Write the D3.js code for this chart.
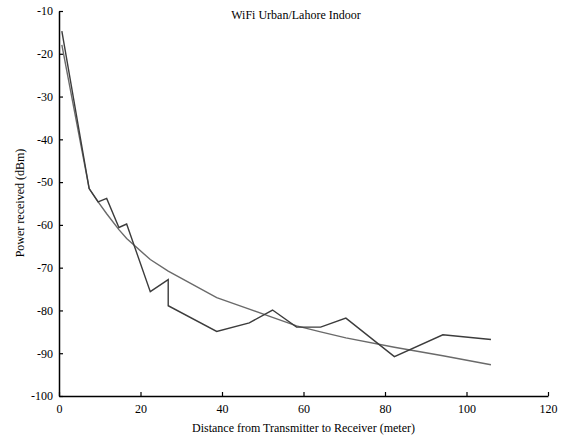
<!DOCTYPE html>
<html>
<head>
  <meta charset='utf-8'>
  <style>
    body { margin: 0; background: #fff; }
    text { font-family: "Liberation Serif", "Times New Roman", serif; }
  </style>
</head>
<body>
  <div id="chart"></div>
  <script src="https://d3js.org/d3.v7.min.js"></script>
  <script>
    // measured power vs distance
    var distance = [0.7, 7.4, 9.6, 11.7, 14.7, 16.6, 22.4, 26.8, 26.8, 38.7, 46.7, 52.4, 58.3, 64.2, 70.4, 82.3, 94.2, 106];
    var measured = [-14.7, -51.5, -54.6, -53.8, -60.6, -59.8, -75.6, -72.8, -78.9, -84.9, -82.9, -79.9, -83.9, -83.9, -81.8, -90.8, -85.7, -86.8];
    // fitted path loss model
    var fitted = [-17.9, -51.5, -54.6, -57.4, -61.1, -63.2, -68.1, -70.8, -70.8, -77.0, -79.7, -81.6, -83.6, -85.0, -86.4, -88.6, -90.6, -92.7];
    var xTicks = [0, 20, 40, 60, 80, 100, 120];
    var yTicks = [-10, -20, -30, -40, -50, -60, -70, -80, -90, -100];

    var width = 562,
        height = 437;

    var x = d3.scaleLinear().domain([0, 120]).range([59, 548]);
    var y = d3.scaleLinear().domain([-100, -10]).range([396, 11]);

    var svg = d3.select("#chart")
                .append("svg")
                .attr("width", width)
                .attr("height", height);

    // plain hyphen for negatives, like the original
    var fmt = function(d) { return String(d); };

    // axes, ticks pointing inward
    var xAxis = svg.append("g")
        .attr("transform", "translate(0,396)")
        .call(d3.axisBottom(x).tickValues(xTicks).tickFormat(fmt).tickSizeInner(-4).tickSizeOuter(0).tickPadding(8));
    var yAxis = svg.append("g")
        .attr("transform", "translate(59,0)")
        .call(d3.axisLeft(y).tickValues(yTicks).tickFormat(fmt).tickSizeInner(-4).tickSizeOuter(0).tickPadding(6));

    [xAxis, yAxis].forEach(function(a) {
      a.attr("font-family", "Liberation Serif").attr("font-size", 12);
      a.select(".domain").attr("stroke", "#000").attr("stroke-width", 1.5);
      a.selectAll(".tick line").attr("stroke", "#000").attr("stroke-width", 1.2);
      a.selectAll(".tick text").attr("fill", "#000");
    });

    var line = d3.line()
        .x(function(d) { return x(d[0]); })
        .y(function(d) { return y(d[1]); });

    svg.append("path")
        .datum(d3.zip(distance, fitted))
        .attr("d", line)
        .attr("fill", "none")
        .attr("stroke", "#6a6a6a")
        .attr("stroke-width", 1.4);

    svg.append("path")
        .datum(d3.zip(distance, measured))
        .attr("d", line)
        .attr("fill", "none")
        .attr("stroke", "#3c3c3c")
        .attr("stroke-width", 1.4);

    svg.append("text")
        .attr("x", 296)
        .attr("y", 19)
        .attr("text-anchor", "middle")
        .attr("font-size", 12)
        .text("WiFi Urban/Lahore Indoor");

    svg.append("text")
        .attr("x", 303.5)
        .attr("y", 432)
        .attr("text-anchor", "middle")
        .attr("font-size", 12)
        .text("Distance from Transmitter to Receiver (meter)");

    svg.append("text")
        .attr("transform", "translate(24,203) rotate(-90)")
        .attr("text-anchor", "middle")
        .attr("font-size", 12)
        .text("Power received (dBm)");
  </script>
</body>
</html>
